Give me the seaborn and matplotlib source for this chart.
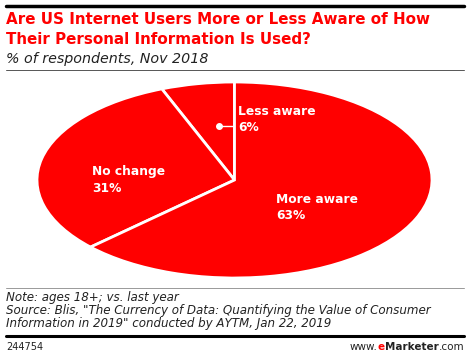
import matplotlib
matplotlib.use("Agg")
import matplotlib.pyplot as plt
from matplotlib.lines import Line2D
import seaborn as sns

# datos del gráfico
categorias = ["Less aware", "No change", "More aware"]
porcentajes = [6, 31, 63]
rojo = "#ff0000"

sns.set_style("white")
plt.rcParams["font.family"] = ["DejaVu Sans"]

W, H = 470, 358
fig = plt.figure(figsize=(W / 100, H / 100), dpi=100)


def fx(px):
    return px / W


def fy(py):
    return 1 - py / H


# líneas de cabecera y pie
fig.add_artist(Line2D([fx(6), fx(464)], [fy(6), fy(6)], color="black", lw=2.5))
fig.add_artist(Line2D([fx(6), fx(464)], [fy(70), fy(70)], color="#555555", lw=0.7))
fig.add_artist(Line2D([fx(6), fx(464)], [fy(288), fy(288)], color="#999999", lw=0.7))
fig.add_artist(Line2D([fx(6), fx(464)], [fy(336), fy(336)], color="black", lw=2.2))

# títulos
fig.text(fx(6), fy(19), "Are US Internet Users More or Less Aware of How", color=rojo,
         fontsize=10.9, fontweight="bold", va="center", ha="left")
fig.text(fx(6), fy(39), "Their Personal Information Is Used?", color=rojo,
         fontsize=10.9, fontweight="bold", va="center", ha="left")
fig.text(fx(6), fy(59), "% of respondents, Nov 2018", color="#222222",
         fontsize=10.3, style="italic", va="center", ha="left")

# gráfico de pastel (elipse)
ax = fig.add_axes([fx(37), fy(278), fx(432) - fx(37), fy(82) - fy(278)])
ax.pie(porcentajes, colors=[rojo] * len(porcentajes), startangle=90, counterclock=True,
       wedgeprops=dict(edgecolor="white", linewidth=2))
ax.set_aspect("auto")
ax.set_xlim(-1.0, 1.0)
ax.set_ylim(-1.0, 1.0)
ax.axis("off")

# etiquetas
estilo = dict(color="white", fontsize=8.8, fontweight="bold", ha="left", va="center", linespacing=1.3)
ax.text(0.02, 0.62, f"{categorias[0]}\n{porcentajes[0]}%", **estilo)
ax.text(-0.72, 0.0, f"{categorias[1]}\n{porcentajes[1]}%", **estilo)
ax.text(0.21, -0.28, f"{categorias[2]}\n{porcentajes[2]}%", **estilo)
ax.plot([-0.08, -0.01], [0.55, 0.55], color="white", lw=1)
ax.plot([-0.08], [0.55], "o", color="white", ms=4)

# notas
notas = ["Note: ages 18+; vs. last year",
         "Source: Blis, \"The Currency of Data: Quantifying the Value of Consumer",
         "Information in 2019\" conducted by AYTM, Jan 22, 2019"]
for i, linea in enumerate(notas):
    fig.text(fx(6), fy(297 + i * 13.5), linea, color="#222222", fontsize=8.6,
             style="italic", va="center", ha="left")

fig.text(fx(6), fy(347), "244754", color="#222222", fontsize=7.0, va="center", ha="left")

# www.eMarketer.com, por partes (derecha a izquierda)
renderer = fig.canvas.get_renderer()
partes = [(".com", "#222222", "normal"), ("Marketer", "#222222", "bold"),
          ("e", rojo, "bold"), ("www.", "#222222", "normal")]
x_der = 464
for texto, color, peso in partes:
    t = fig.text(fx(x_der), fy(347), texto, color=color, fontsize=7.5, fontweight=peso,
                 va="baseline", ha="right")
    t.set_y(fy(350))
    x_der -= t.get_window_extent(renderer).width

fig.savefig("out.png", dpi=100)
